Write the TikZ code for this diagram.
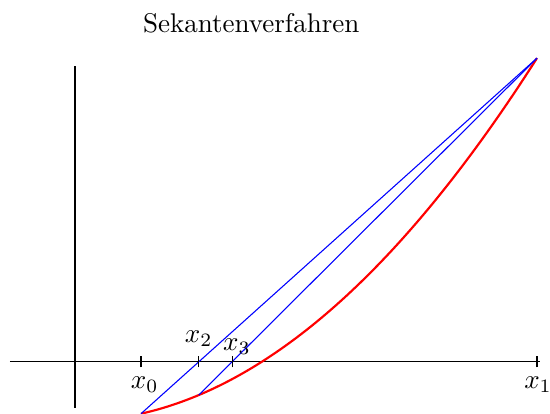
\documentclass[tikz,border=0pt]{standalone}
\usepackage{amsmath}
\usetikzlibrary{positioning,calc}

\tikzset{
  secline/.style={blue, line width=0.4pt},
  tickmark/.style={black, line width=0.4pt},
}

\begin{document}
\begin{tikzpicture}[x=24.42pt, y=24.67pt]
\useasboundingbox (-1.136,-0.78) rectangle (7.197,5.427);

% Function and secant steps
\def\fx#1{((#1)*(#1)-8)/9}
\pgfmathsetmacro{\xa}{1}
\pgfmathsetmacro{\xb}{7}
\pgfmathsetmacro{\fa}{\fx{\xa}}
\pgfmathsetmacro{\fb}{\fx{\xb}}
\pgfmathsetmacro{\xc}{\xa-\fa*(\xb-\xa)/(\fb-\fa)}
\pgfmathsetmacro{\fc}{\fx{\xc}}
\pgfmathsetmacro{\xd}{\xc-\fc*(\xb-\xc)/(\fb-\fc)}

\node (title) at (2.67,5.08) {Sekantenverfahren};

% Axes
\draw (-0.985,0) -- (7.045,0);
\draw (0,-0.69) -- (0,4.44);

% Points on the curve
\coordinate (p0) at (\xa,\fa);
\coordinate (p1) at (\xb,\fb);
\coordinate (p2) at (\xc,\fc);

% Curve
\draw[red, thick, domain=1:7, samples=80] plot (\x, {\fx{\x}});

% Secants
\draw[secline] (p0) -- (p1);
\draw[secline] (p2) -- (p1);

% Ticks and labels
\foreach \name/\xv in {x0/\xa, x1/\xb, x2/\xc, x3/\xd} {
    \draw[tickmark] (\xv,-0.083) coordinate (\name lo) -- (\xv,0.083) coordinate (\name hi);
}
\node[below=0pt of x0lo, xshift=1.4pt] (lx0) {$x_0$};
\node[below=0pt of x1lo, xshift=0.4pt] (lx1) {$x_1$};
\node[above=0pt of x2hi] (lx2) {$x_2$};
\node[above=-3pt of x3hi, xshift=1.8pt] (lx3) {$x_3$};
\end{tikzpicture}
\end{document}
